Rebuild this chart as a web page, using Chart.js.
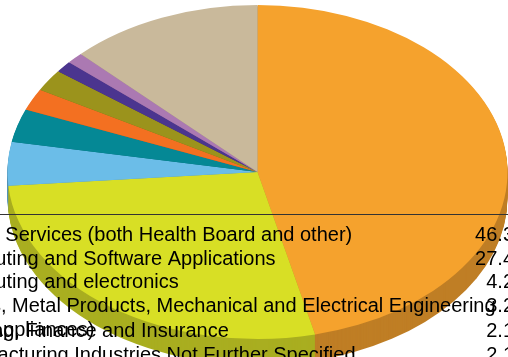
<!DOCTYPE html>
<html>
<head>
<meta charset="utf-8">
<script src="https://cdn.jsdelivr.net/npm/chart.js@4"></script>
<style>
    html, body { margin: 0; padding: 0; background: #fff; overflow: hidden; }
    #chart { display: block; }
</style>
</head>
<body>
<canvas id="chart" width="508" height="357"></canvas>
<script>
const categories = [
    'Health Services (both Health Board and other)',
    'Computing and Software Applications',
    'Computing and electronics',
    'Metals, Metal Products, Mechanical and Electrical Engineering',
    'Banking, Finance and Insurance',
    'Manufacturing Industries Not Further Specified',
    'Other A',
    'Other B',
    'Remainder'
];
const shares = [46.3, 27.4, 4.2, 3.2, 2.1, 2.1, 1.1, 1.1, 12.5];
const sliceColors = ['#f5a22d', '#d8df25', '#6bbde8', '#058895', '#f37021', '#9b931c', '#4b358f', '#ab79b2', '#c9b99b'];
const sideColors = ['#bf7e25', '#a9ae20', '#5493b5', '#046a74', '#bd5719', '#797216', '#3a296f', '#855e8b', '#9d9079'];

// table rows under the pie, text runs off both edges like in the original
const rowLabels = [
    'Health Services (both Health Board and other)',
    'Computing and Software Applications',
    'Computing and electronics',
    'Metals, Metal Products, Mechanical and Electrical Engineering',
    'Banking, Finance and Insurance',
    'Manufacturing Industries Not Further Specified'
];
const rowValues = ['46.3', '27.4', '4.2', '3.2', '2.1', '2.1'];
const wrappedLabel = '(incl. Appliances)';

const pieCenterX = 257.5;
const pieCenterY = 172;
const pieRadius = 250;
const squash = 167 / pieRadius;
const depth = 26;

const pieView = (ctx, arc, dy) => {
    ctx.translate(pieCenterX, pieCenterY + dy);
    ctx.scale(1, squash);
    ctx.translate(-arc.x, -arc.y);
};

const tiltedPie = {
    id: 'tiltedPie',
    beforeDatasetsDraw(chart) {
        const ctx = chart.ctx;
        const arcs = chart.getDatasetMeta(0).data;
        for (let dy = depth; dy > 0; dy--) {
            arcs.forEach((arc, i) => {
                ctx.save();
                pieView(ctx, arc, dy);
                ctx.fillStyle = sideColors[i];
                ctx.beginPath();
                ctx.moveTo(arc.x, arc.y);
                ctx.arc(arc.x, arc.y, arc.outerRadius, arc.startAngle, arc.endAngle);
                ctx.closePath();
                ctx.fill();
                ctx.restore();
            });
        }
    },
    beforeDatasetDraw(chart) {
        const ctx = chart.ctx;
        ctx.save();
        pieView(ctx, chart.getDatasetMeta(0).data[0], 0);
    },
    afterDatasetDraw(chart) {
        chart.ctx.restore();
    },
    afterDraw(chart) {
        const ctx = chart.ctx;
        ctx.save();
        ctx.strokeStyle = '#333';
        ctx.lineWidth = 1;
        ctx.beginPath();
        ctx.moveTo(0, 214.5);
        ctx.lineTo(508, 214.5);
        ctx.stroke();

        ctx.fillStyle = '#000';
        ctx.font = '20px "Liberation Sans"';
        ctx.textBaseline = 'alphabetic';
        const rowY = [241, 265, 288, 312, 337, 361];
        const labelX = -58;
        const valueX = 514;
        rowLabels.forEach((label, i) => {
            ctx.textAlign = 'left';
            ctx.fillText(label, labelX, rowY[i]);
            ctx.textAlign = 'right';
            ctx.fillText(rowValues[i], valueX, rowY[i]);
        });
        ctx.textAlign = 'left';
        ctx.fillText(wrappedLabel, labelX, 336);
        ctx.restore();
    }
};

new Chart(document.getElementById('chart'), {
    type: 'pie',
    data: {
        labels: categories,
        datasets: [{
            data: shares,
            backgroundColor: sliceColors,
            borderWidth: 0,
            clip: false
        }]
    },
    options: {
        responsive: false,
        animation: false,
        radius: pieRadius,
        plugins: {
            legend: { display: false },
            tooltip: { enabled: false }
        }
    },
    plugins: [tiltedPie]
});
</script>
</body>
</html>
